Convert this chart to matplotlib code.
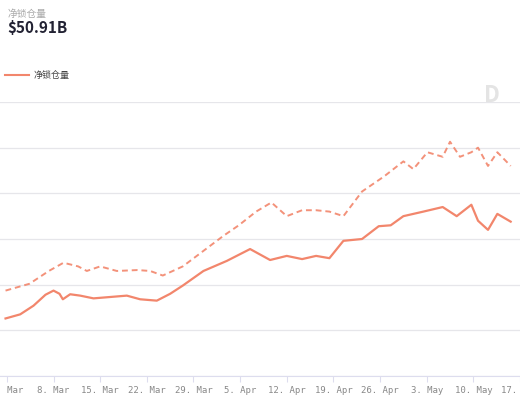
import datetime as dt
import matplotlib
matplotlib.use("Agg")
from matplotlib import pyplot as plt
import matplotlib.dates as mdates

plt.rcParams['font.family'] = ['Noto Sans CJK SC', 'DejaVu Sans']

# days counted from 1 Mar
days_solid = [-0.2, 2, 4, 5.8, 7, 7.9, 8.4, 9.5, 11, 13, 15.5, 18, 20, 22.5, 24.5, 26.4, 29.5, 33, 36.5, 39.5, 42, 44.3, 46.4, 48.4, 50.5, 53.3, 55.8, 57.6, 59.5, 62.5, 65.4, 67.5, 69.7, 70.7, 72.2, 73.6, 75.6]
solid = [12.6, 13.5, 15.4, 17.8, 18.7, 18.0, 16.8, 17.9, 17.6, 17.0, 17.3, 17.6, 16.8, 16.5, 18.0, 19.8, 23.0, 25.2, 27.8, 25.4, 26.3, 25.6, 26.3, 25.8, 29.6, 30.0, 32.8, 33.0, 35.0, 36.0, 37.0, 35.0, 37.5, 34.0, 32.0, 35.5, 33.8]
days_dash = [-0.2, 3.4, 6.3, 8.5, 10.7, 12, 14, 16.5, 19.6, 21.5, 23.4, 26.4, 29.5, 32.5, 34.8, 37.4, 39.7, 42, 44.3, 46.4, 48.4, 50.5, 53.3, 56.6, 59.5, 61, 63.1, 65.4, 66.5, 68, 69.7, 70.7, 72.2, 73.6, 75.6]
dashed = [18.7, 20.2, 23.0, 24.8, 24.0, 23.0, 24.0, 23.0, 23.2, 23.0, 22.0, 24.0, 27.4, 30.7, 33.0, 36.0, 38.0, 35.0, 36.3, 36.3, 36.0, 35.0, 40.4, 43.7, 47.0, 45.3, 49.0, 48.0, 51.3, 48.0, 49.0, 50.0, 46.0, 49.0, 46.0]

start = dt.datetime(2021, 3, 1)
xs = [start + dt.timedelta(days=d) for d in days_solid]
xd = [start + dt.timedelta(days=d) for d in days_dash]
col = '#f2866c'

fig = plt.figure(figsize=(5.2, 4), dpi=100)
ax = fig.add_axes([0, 0.06, 1, 0.685])
ax.plot(xs, solid, color=col, lw=1.6)
ax.plot(xd, dashed, color=col, lw=1.4, ls=(0, (3, 2)), alpha=0.9)

ax.set_xlim(start + dt.timedelta(days=-1.03), start + dt.timedelta(days=75.6))
ax.set_ylim(0, 60)
ax.set_yticks(range(0, 61, 10))
ax.grid(axis='y', color='#e6e6ea', lw=0.9)
ax.tick_params(axis='y', left=False, labelleft=False)
ax.xaxis.set_major_locator(mdates.DayLocator(bymonthday=[1, 8, 15, 22, 29, 5, 12, 19, 26, 3, 10, 17]))
ticks = [start + dt.timedelta(days=7 * i) for i in range(12)]
ax.set_xticks(ticks)
ax.set_xticklabels([f"{t.day}. {t.strftime('%b')}" for t in ticks],
                   fontsize=6.5, color='#888888', family='DejaVu Sans Mono')
ax.tick_params(axis='x', length=4, color='#dde', pad=3)
for s in ['top', 'right', 'left']:
    ax.spines[s].set_visible(False)
ax.spines['bottom'].set_color('#dde')

fig.text(0.015, 0.965, '净锁仓量', fontsize=7, color='#aaaaaa', va='center')
fig.text(0.015, 0.93, '$50.91B', fontsize=11, color='#222233', weight='bold', va='center')
fig.add_artist(plt.Line2D([0.01, 0.055], [0.812, 0.812], color=col, lw=1.5))
fig.text(0.065, 0.812, '净锁仓量', fontsize=6.5, color='#444444', va='center')
fig.text(0.93, 0.76, 'D', fontsize=16, color='#e4e4e4', weight='bold', va='center')

fig.savefig('out.png')
